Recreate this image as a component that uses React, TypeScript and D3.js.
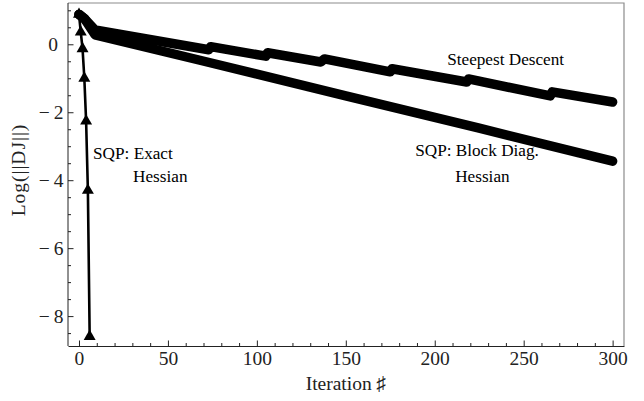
import { useRef, useEffect } from "react";
import * as d3 from "d3";

// iteration numbers and log(||DJ||)
const exactIter = [0, 1, 2, 3, 4, 5, 6];
const exactLog = [0.88, 0.36, -0.13, -1.0, -2.26, -4.3, -8.6];

const steepIter = [0, 3, 9, 73, 74, 105, 106, 136, 138, 175, 176, 218, 219, 265, 266, 300];
const steepLog = [0.88, 0.76, 0.42, -0.16, -0.07, -0.35, -0.25, -0.52, -0.43, -0.81, -0.72, -1.11, -1.02, -1.52, -1.4, -1.7];

const blockIter = [0, 3, 9, 68, 150, 225, 300];
const blockLog = [0.88, 0.76, 0.28, -0.47, -1.52, -2.47, -3.44];

const xMajor = [0, 50, 100, 150, 200, 250, 300];
const xMinor = d3.range(10, 300, 10).filter((v) => v % 50 !== 0);
const yMajor = [0, -2, -4, -6, -8];
const yMinor = d3.range(-8.5, 1.01, 0.5).filter((v) => v % 2 !== 0);

const WIDTH = 644;
const HEIGHT = 401;

export default function App() {
  const svgRef = useRef<SVGSVGElement>(null);

  useEffect(() => {
    const svg = d3.select(svgRef.current);
    svg.selectAll("*").remove();

    const left = 68, right = 624, top = 3, bottom = 346;
    const font = "'Liberation Serif', 'Times New Roman', serif";

    const x = d3.scaleLinear().domain([-6.18, 306.4]).range([left, right]);
    const y = d3.scaleLinear().domain([1.215, -8.88]).range([top, bottom]);

    svg.append("rect").attr("width", WIDTH).attr("height", HEIGHT).attr("fill", "#fff");

    // top / right frame
    svg.append("path")
      .attr("d", `M${left},${top}H${right}V${bottom}`)
      .attr("fill", "none")
      .attr("stroke", "#8c8c8c")
      .attr("stroke-width", 1.2);

    // minor ticks
    svg.append("g")
      .attr("transform", `translate(0,${bottom})`)
      .call(d3.axisBottom(x).tickValues(xMinor).tickSize(-3).tickFormat(() => ""))
      .call((g) => g.select(".domain").remove())
      .attr("color", "#222");
    svg.append("g")
      .attr("transform", `translate(${left},0)`)
      .call(d3.axisLeft(y).tickValues(yMinor).tickSize(-3).tickFormat(() => ""))
      .call((g) => g.select(".domain").remove())
      .attr("color", "#222");

    // major axes
    const xAxis = svg.append("g")
      .attr("transform", `translate(0,${bottom})`)
      .call(d3.axisBottom(x).tickValues(xMajor).tickSize(-5.5).tickSizeOuter(0).tickPadding(5.5))
      .attr("color", "#222");
    xAxis.selectAll("text")
      .attr("font-family", font)
      .attr("font-size", 19.5)
      .attr("fill", "#222");

    const yAxis = svg.append("g")
      .attr("transform", `translate(${left},0)`)
      .call(
        d3.axisLeft(y)
          .tickValues(yMajor)
          .tickSize(-5.5)
          .tickSizeOuter(0)
          .tickPadding(4.5)
          .tickFormat((d) => (+d < 0 ? `\u2212\u2009${Math.abs(+d)}` : `${d}`))
      )
      .attr("color", "#222");
    yAxis.selectAll("text")
      .attr("font-family", font)
      .attr("font-size", 19.5)
      .attr("fill", "#222")
      .attr("dx", (d) => (+d === 0 ? -5.5 : 0));
    yAxis.select(".domain").attr("d", `M0,${top}V${bottom}`);

    // plot clip
    svg.append("clipPath").attr("id", "plot")
      .append("rect")
      .attr("x", left).attr("y", top)
      .attr("width", right - left).attr("height", bottom - top);

    const plot = svg.append("g").attr("clip-path", "url(#plot)");

    const line = d3.line<[number, number]>()
      .x((d) => x(d[0]))
      .y((d) => y(d[1]));

    const thick = (iters: number[], vals: number[]) => {
      plot.append("path")
        .datum(iters.map((it, i) => [it, vals[i]] as [number, number]))
        .attr("fill", "none")
        .attr("stroke", "#000")
        .attr("stroke-width", 9.5)
        .attr("stroke-linejoin", "round")
        .attr("stroke-linecap", "round")
        .attr("d", line);
    };
    thick(blockIter, blockLog);
    thick(steepIter, steepLog);

    const exactPts = exactIter.map((it, i) => [it, exactLog[i]] as [number, number]);
    plot.append("path")
      .datum(exactPts)
      .attr("fill", "none")
      .attr("stroke", "#000")
      .attr("stroke-width", 2.6)
      .attr("d", line);

    const tri = d3.symbol(d3.symbolTriangle, 62);
    plot.selectAll(".tri")
      .data(exactPts)
      .join("path")
      .attr("class", "tri")
      .attr("transform", (d) => `translate(${x(d[0])},${y(d[1])})`)
      .attr("d", tri)
      .attr("fill", "#000");

    // annotations, anchored in data coordinates
    const notes: [string, number, number][] = [
      ["SQP: Exact", 7.9, -3.38],
      ["Hessian", 30.4, -4.06],
      ["Steepest Descent", 207, -0.62],
      ["SQP: Block Diag.", 189, -3.29],
      ["Hessian", 211.5, -4.05],
    ];
    svg.selectAll(".note")
      .data(notes)
      .join("text")
      .attr("class", "note")
      .attr("x", (d) => x(d[1]))
      .attr("y", (d) => y(d[2]))
      .attr("font-family", font)
      .attr("font-size", 17.2)
      .attr("fill", "#000")
      .text((d) => d[0]);

    // axis labels
    svg.append("text")
      .attr("x", 346)
      .attr("y", 390)
      .attr("text-anchor", "middle")
      .attr("font-family", font)
      .attr("font-size", 19.5)
      .attr("fill", "#222")
      .text("Iteration \u266F");

    svg.append("text")
      .attr("transform", `translate(25,170) rotate(-90)`)
      .attr("text-anchor", "middle")
      .attr("font-family", font)
      .attr("font-size", 19.5)
      .attr("letter-spacing", 1)
      .attr("fill", "#222")
      .text("Log(||DJ||)");
  }, []);

  return (
    <div style={{ position: "absolute", left: 0, top: 0 }}>
      <svg ref={svgRef} width={WIDTH} height={HEIGHT} style={{ display: "block" }} />
    </div>
  );
}
